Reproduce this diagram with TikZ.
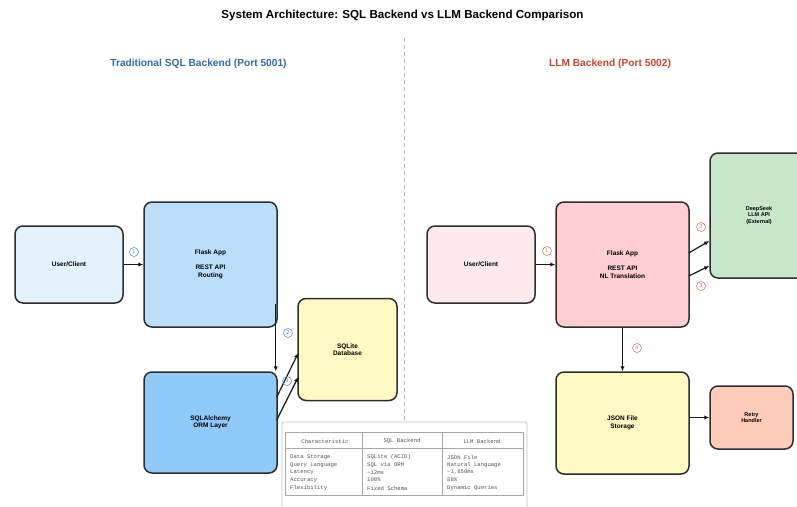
\documentclass[tikz,border=0pt]{standalone}
\usepackage{fontspec}
\setmainfont{Liberation Sans}
\newfontfamily\tabmono{Liberation Mono}
\usetikzlibrary{arrows.meta,calc}
\definecolor{hdrblue}{HTML}{2E6DA8}
\definecolor{hdrred}{HTML}{C8452B}
\definecolor{numblue}{HTML}{4A8AC8}
\definecolor{numred}{HTML}{D8684A}
\definecolor{cUL}{HTML}{E3F2FD}
\definecolor{cFL}{HTML}{BBDEFB}
\definecolor{cOL}{HTML}{90CAF9}
\definecolor{cYel}{HTML}{FFF9C4}
\definecolor{cUR}{HTML}{FFEBEE}
\definecolor{cFR}{HTML}{FFCDD2}
\definecolor{cDS}{HTML}{C8E6C9}
\definecolor{cRT}{HTML}{FFCCBC}
\definecolor{tabgrid}{HTML}{A8A8A8}
\definecolor{tabouter}{HTML}{C4C4C4}
\definecolor{tabtext}{HTML}{555555}
\tikzset{
  boxnode/.style={draw=black!82, line width=1.5pt, rounded corners=8pt, align=center, inner sep=0pt,
    font=\bfseries\fontsize{6.5}{7.5}\selectfont},
  smallbox/.style={boxnode, font=\bfseries\fontsize{5.5}{6.3}\selectfont},
  arr/.style={-{Latex[length=5pt,width=4.5pt]}, line width=1.2pt, black!90},
  numL/.style={circle, draw=numblue, text=numblue, line width=0.5pt, inner sep=0pt, minimum size=9pt, font=\fontsize{5.5}{5.5}\selectfont},
  numR/.style={numL, draw=numred, text=numred},
  tabtxt/.style={font=\tabmono\fontsize{5.6}{6.5}\selectfont, text=tabtext, inner sep=0pt, anchor=west},
  tabhdr/.style={tabtxt, anchor=center},
}
\begin{document}
\begin{tikzpicture}[x=1pt,y=-1pt]
\useasboundingbox[fill=white] (0,0) rectangle (797,506);
% title and headers
\node[font=\bfseries\fontsize{11.6}{13}\selectfont] (title) at (402.5,16) {System Architecture: SQL Backend vs LLM Backend Comparison};
\node[font=\bfseries\fontsize{10.2}{12}\selectfont, text=hdrblue] (hL) at (198.5,64) {Traditional SQL Backend (Port 5001)};
\node[font=\bfseries\fontsize{10.2}{12}\selectfont, text=hdrred] (hR) at (610,64) {LLM Backend (Port 5002)};
% separator
\coordinate (sepTop) at (404,38);
\coordinate (sepBot) at (404,421);
\draw[gray!55, line width=0.6pt, dash pattern=on 4pt off 3pt] (sepTop) -- (sepBot);
% left nodes
\node[boxnode, fill=cUL, minimum width=108pt, minimum height=77pt] (uL) at (69,264.5) {User/Client};
\node[boxnode, fill=cFL, minimum width=133pt, minimum height=125pt] (fL) at (210.5,264.5) {Flask App\\[7.5pt]REST API\\Routing};
\node[boxnode, fill=cOL, minimum width=133pt, minimum height=101pt] (oL) at (210.5,422.5) {SQLAlchemy\\ORM Layer};
\node[boxnode, fill=cYel, minimum width=99pt, minimum height=102pt] (dL) at (347.5,349.5) {SQLite\\Database};
% right nodes
\node[boxnode, fill=cUR, minimum width=108pt, minimum height=77pt] (uR) at (481,264.5) {User/Client};
\node[boxnode, fill=cFR, minimum width=133pt, minimum height=125pt] (fR) at (622.5,264.5) {Flask App\\[7.5pt]REST API\\NL Translation};
\node[smallbox, fill=cDS, minimum width=98pt, minimum height=125pt] (dsR) at (759,215.5) {DeepSeek\\LLM API\\(External)};
\node[boxnode, fill=cYel, minimum width=133pt, minimum height=102pt] (jR) at (622.5,423) {JSON File\\Storage};
\node[smallbox, fill=cRT, minimum width=83pt, minimum height=63pt] (rR) at (751.5,417.5) {Retry\\Handler};
% left connectors
\draw[arr] (uL.east) -- (fL.west);
\coordinate (c2s) at ($(fL.south east)+(-2,-24)$);
\coordinate (c2e) at ($(oL.north east)+(-2,0)$);
\draw[arr] (c2s) -- (c2e);
\draw[arr] ([yshift=25.5pt,xshift=-1pt]oL.east) -- ([yshift=-3.5pt,xshift=1pt]dL.west);
\draw[arr] ([yshift=2.5pt,xshift=-1pt]oL.east) -- ([yshift=-27.5pt,xshift=1pt]dL.west);
\node[numL] (n1L) at (134,252) {1};
\node[numL] (n2L) at (288,333) {2};
\node[numL] (n3L) at (287,381) {3};
% right connectors
\draw[arr] (uR.east) -- (fR.west);
\draw[arr] ([yshift=11.5pt,xshift=-1pt]fR.east) -- ([yshift=-25.5pt]dsR.west);
\draw[arr] ([yshift=-11.5pt,xshift=-1pt]fR.east) -- ([yshift=-50.5pt]dsR.west);
\draw[arr] (fR.south) -- (jR.north);
\draw[arr] (rR.west -| jR.east) -- (rR.west);
\node[numR] (n1R) at (547,251) {1};
\node[numR] (n2R) at (701,227) {2};
\node[numR] (n3R) at (701,286) {3};
\node[numR] (n4R) at (637,348) {4};
% comparison table
\draw[tabouter, line width=0.9pt, fill=white, rounded corners=2pt] (282,422) rectangle (527,512);
\draw[tabgrid, line width=0.5pt] (285,432) rectangle (523,495);
\draw[tabgrid, line width=0.5pt] (285,448) -- (523,448);
\draw[tabgrid, line width=0.5pt] (362,432) -- (362,495);
\draw[tabgrid, line width=0.5pt] (442,432) -- (442,495);
\node[tabhdr] (th1) at (325,441) {Characteristic};
\node[tabhdr] (th2) at (402,441) {SQL Backend};
\node[tabhdr] (th3) at (482,441) {LLM Backend};
\node[tabtxt] (r1a) at (290,457) {Data Storage};
\node[tabtxt] (r1b) at (367,457) {SQLite (ACID)};
\node[tabtxt] (r1c) at (447,457) {JSON File};
\node[tabtxt] (r2a) at (290,465) {Query Language};
\node[tabtxt] (r2b) at (367,465) {SQL via ORM};
\node[tabtxt] (r2c) at (447,465) {Natural Language};
\node[tabtxt] (r3a) at (290,472.5) {Latency};
\node[tabtxt] (r3b) at (367,472.5) {\textasciitilde12ms};
\node[tabtxt] (r3c) at (447,472.5) {\textasciitilde1,850ms};
\node[tabtxt] (r4a) at (290,480) {Accuracy};
\node[tabtxt] (r4b) at (367,480) {100\%};
\node[tabtxt] (r4c) at (447,480) {88\%};
\node[tabtxt] (r5a) at (290,488) {Flexibility};
\node[tabtxt] (r5b) at (367,488) {Fixed Schema};
\node[tabtxt] (r5c) at (447,488) {Dynamic Queries};
\end{tikzpicture}
\end{document}
